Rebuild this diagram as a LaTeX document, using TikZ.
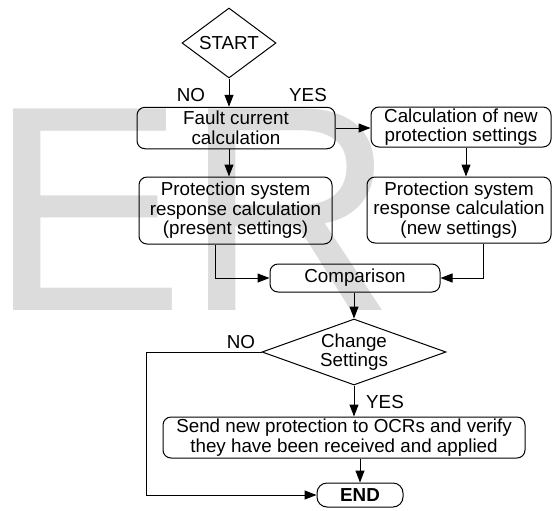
\documentclass[tikz,border=0pt]{standalone}
\usepackage{fontspec}
\setmainfont{Liberation Sans}
\usetikzlibrary{arrows.meta,positioning,shapes.geometric}
\definecolor{markgray}{RGB}{220,220,220}

\begin{document}
\begin{tikzpicture}[x=0.5pt,y=-0.5pt,>={Triangle[length=6pt,width=4.5pt]},
  every node/.style={font=\fontsize{9.4}{9.8}\selectfont},
  box/.style={draw,rounded corners=4pt,align=center,inner sep=0pt,line width=0.5pt},
  decision/.style={draw,diamond,align=center,inner sep=0pt,line width=0.5pt},
  flow/.style={->,line width=0.5pt}]
  \useasboundingbox (0,0) rectangle (552,510);
  \node[markgray,font=\fontsize{146.5}{146.5}\selectfont,anchor=base west,inner sep=0pt] (mark) at (-11,310) {ER};
  \node[decision,aspect=1.34,minimum width=47pt,minimum height=35pt] (start) at (229,43) {START};
  \node[box,minimum width=99pt,minimum height=20.75pt] (fault) at (236,128) {Fault current\\calculation};
  \node[box,minimum width=90pt,minimum height=20pt] (calcnew) at (461,127) {Calculation of new\\protection settings};
  \node[box,minimum width=96.5pt,minimum height=33.5pt] (respold) at (235.5,210.5) {Protection system\\response calculation\\(present settings)};
  \node[box,minimum width=92pt,minimum height=33pt] (respnew) at (459,210) {Protection system\\response calculation\\(new settings)};
  \node[box,minimum width=85pt,minimum height=14pt] (compare) at (355,278) {Comparison};
  \node[decision,aspect=2.8,minimum width=92pt,minimum height=33pt] (change) at (354,352) {Change\\Settings};
  \node[box,minimum width=181pt,minimum height=20.5pt] (send) at (344,437.5) {Send new protection to OCRs and verify\\they have been received and applied};
  \node[box,rounded corners=5pt,minimum width=43pt,minimum height=12pt,font=\fontsize{9.4}{9.8}\selectfont\bfseries] (finish) at (360,495) {END};
  % branch labels
  \node (no1) at (191,95) {NO};
  \node (yes1) at (308,95) {YES};
  \node (no2) at (241,342) {NO};
  \node (yes2) at (385,402) {YES};
  % connectors
  \draw[flow] (start.south) -- (start.south |- fault.north);
  \draw[flow] (start.south |- fault.south) -- (start.south |- respold.north);
  \draw[flow] (fault.east) -- (fault.east -| calcnew.west);
  \draw[flow] ([xshift=2.5pt]calcnew.south) -- ([xshift=2.5pt]calcnew.south |- respnew.north);
  \draw[flow] ([xshift=-10pt]respold.south) |- (compare.west);
  \draw[flow] ([xshift=12pt]respnew.south) |- (compare.east);
  \draw[flow] (change.north |- compare.south) -- (change.north);
  \draw[flow] (change.south) -- (send.north -| change.south);
  \draw[flow] (send.south -| finish.north) -- (finish.north);
  \coordinate (loopback) at (146,352);
  \draw[flow] (change.west) -- (loopback) |- (finish.west);
\end{tikzpicture}
\end{document}
